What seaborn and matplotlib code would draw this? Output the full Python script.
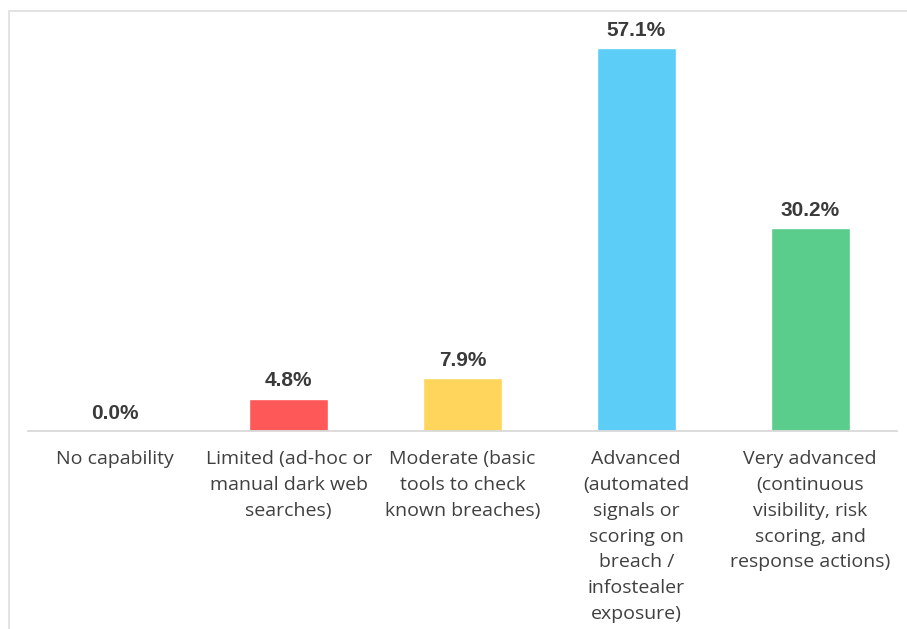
import matplotlib
matplotlib.use("Agg")
import matplotlib.pyplot as plt
from matplotlib.patches import Rectangle
import seaborn as sns
import pandas as pd

categories = [
    "No capability",
    "Limited (ad-hoc or\nmanual dark web\nsearches)",
    "Moderate (basic\ntools to check\nknown breaches)",
    "Advanced\n(automated\nsignals or\nscoring on\nbreach /\ninfostealer\nexposure)",
    "Very advanced\n(continuous\nvisibility, risk\nscoring, and\nresponse actions)",
]
shares = [0.0, 4.8, 7.9, 57.1, 30.2]
bar_colors = ["#A6A6A6", "#FF5858", "#FFD55B", "#5BCDF6", "#5ACC8B"]

df = pd.DataFrame({"category": categories, "share": shares})

sns.set_theme(style="white")
plt.rcParams["font.family"] = ["Open Sans", "DejaVu Sans"]

W, H = 907, 629
fig = plt.figure(figsize=(W / 100, H / 100), dpi=100)
fig.patch.set_facecolor("white")

# outer chart frame (open on the right and bottom)
fig.add_artist(Rectangle((8.5 / W, -0.1), 1.2, (H - 11) / H + 0.1,
                         transform=fig.transFigure, fill=False,
                         edgecolor="#E3E3E3", linewidth=1.4))

left, right, bottom, top = 28, 897, H - 431, H - 11
ax = fig.add_axes([left / W, bottom / H, (right - left) / W, (top - bottom) / H])

sns.barplot(data=df, x="category", y="share", hue="category",
            palette=bar_colors, legend=False, width=0.455,
            saturation=1, ax=ax)

ax.set_ylim(0, (431 - 11) / 6.71)
ax.set_xlim(-0.5, len(categories) - 0.5)
ax.set_xlabel("")
ax.set_ylabel("")
ax.set_yticks([])
for side in ["top", "right", "left"]:
    ax.spines[side].set_visible(False)
ax.spines["bottom"].set_color("#D9D9D9")
ax.spines["bottom"].set_linewidth(1.3)
ax.tick_params(axis="x", length=0, pad=14)
ax.set_xticks(range(len(categories)))
ax.set_xticklabels(categories, fontsize=14, color="#404040",
                   linespacing=1.55, va="top", ha="center")

for i, v in enumerate(shares):
    ax.annotate(f"{v:.1f}%", xy=(i, v), xytext=(0, 6),
                textcoords="offset points", ha="center", va="bottom",
                fontsize=15, fontweight="bold", color="#3A3A3A",
                family=["Liberation Sans", "DejaVu Sans"])

fig.savefig("out.png", dpi=100, facecolor="white")
